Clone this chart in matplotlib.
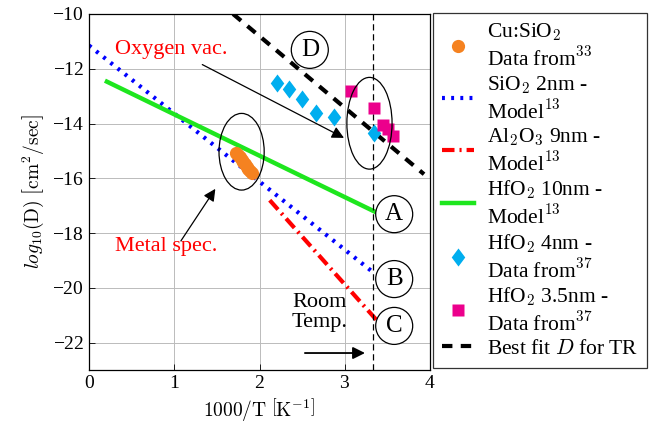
import numpy as np
import matplotlib.pyplot as plt
from matplotlib.patches import Ellipse
from matplotlib.path import Path

plt.rcParams['font.family'] = 'serif'
plt.rcParams['font.serif'] = ['Liberation Serif', 'DejaVu Serif']
plt.rcParams['mathtext.fontset'] = 'cm'
plt.rcParams['axes.formatter.use_mathtext'] = True

# Cu:SiO2 data
cu_x = [1.73, 1.75, 1.77, 1.79, 1.81, 1.83, 1.85, 1.87, 1.89, 1.91]
cu_y = [-15.08, -15.16, -15.24, -15.32, -15.40, -15.48, -15.57, -15.65, -15.73, -15.81]

# model lines (end points)
sio2_x = [0.0, 3.36]
sio2_y = [-11.15, -19.5]
al2o3_x = [2.12, 3.38]
al2o3_y = [-16.8, -21.2]
hfo2_x = [0.21, 3.36]
hfo2_y = [-12.47, -17.23]

# HfO2 4nm data
hf4_x = [2.21, 2.35, 2.50, 2.66, 2.87, 3.34]
hf4_y = [-12.53, -12.74, -13.10, -13.62, -13.77, -14.33]

# HfO2 3.5nm data
hf35_x = [3.07, 3.34, 3.45, 3.51, 3.57]
hf35_y = [-12.83, -13.44, -14.05, -14.21, -14.45]

# best fit D
fit_x = [1.69, 3.93]
fit_y = [-10.0, -15.85]

room_t = 3.33

fig = plt.figure(figsize=(6.52, 4.30), dpi=100)
ax = fig.add_axes([89 / 652, 60 / 430, 341 / 652, 356 / 430])

diamond = Path([(0, 1), (0.75, 0), (0, -1), (-0.75, 0), (0, 1)],
               [Path.MOVETO, Path.LINETO, Path.LINETO, Path.LINETO, Path.CLOSEPOLY])

ax.plot(cu_x, cu_y, 'o', color='#F58220', ms=9.5, mec='none', zorder=5,
        label='Cu:SiO$_2$\nData from$^{33}$')
ax.plot(sio2_x, sio2_y, color='#0000FF', lw=3, ls=(0, (0.7, 1.5)),
        label='SiO$_2$ 2nm -\nModel$^{13}$')
ax.plot(al2o3_x, al2o3_y, color='#FF0000', lw=3, ls=(0, (3, 1.2, 0.5, 1.2)),
        label='Al$_2$O$_3$ 9nm -\nModel$^{13}$')
ax.plot(hfo2_x, hfo2_y, color='#1EE61E', lw=3.2,
        label='HfO$_2$ 10nm -\nModel$^{13}$')
ax.plot(hf4_x, hf4_y, ls='none', marker=diamond, color='#00AEEF', ms=13, mec='none',
        zorder=6, label='HfO$_2$ 4nm -\nData from$^{37}$')
ax.plot(hf35_x, hf35_y, 's', color='#EC008C', ms=8.5, mec='none', zorder=6,
        label='HfO$_2$ 3.5nm -\nData from$^{37}$')
ax.plot(fit_x, fit_y, color='black', lw=3, ls=(0, (2.5, 2)), zorder=4,
        label='Best fit $D$ for TR')

ax.axvline(room_t, color='black', lw=0.9, ls=(0, (5, 3)), zorder=3)

ax.add_patch(Ellipse((1.79, -15.03), 0.53, 2.8, fill=False, lw=0.9, zorder=7))
ax.add_patch(Ellipse((3.29, -13.99), 0.53, 3.35, fill=False, lw=0.9, zorder=7))

circ = dict(boxstyle='circle,pad=0.3', fc='white', ec='black', lw=0.9)
for letter, lx, ly in [('D', 2.59, -11.31), ('A', 3.58, -17.31),
                       ('B', 3.58, -19.68), ('C', 3.58, -21.39)]:
    ax.text(lx, ly, letter, fontsize=18, ha='center', va='center', bbox=circ, zorder=8)

ax.text(0.31, -11.31, 'Oxygen vac.', color='red', fontsize=16, va='center')
ax.annotate('', xy=(3.02, -14.57), xytext=(1.30, -11.8),
            arrowprops=dict(arrowstyle='-|>', color='black', lw=0.9, mutation_scale=18))
ax.text(0.31, -18.49, 'Metal spec.', color='red', fontsize=16, va='center')
ax.annotate('', xy=(1.50, -16.30), xytext=(1.06, -18.37),
            arrowprops=dict(arrowstyle='-|>', color='black', lw=0.9, mutation_scale=18))
ax.text(2.38, -20.9, 'Room\nTemp.', fontsize=16, va='center', linespacing=1.1)
ax.annotate('', xy=(3.27, -22.38), xytext=(2.50, -22.38),
            arrowprops=dict(arrowstyle='-|>', color='black', lw=1.3, mutation_scale=18))

ax.set_xlim(0, 4)
ax.set_ylim(-23, -10)
ax.set_xticks([0, 1, 2, 3, 4])
ax.set_yticks([-10, -12, -14, -16, -18, -20, -22])
ax.tick_params(labelsize=14, direction='in', length=4, width=0.6)
ax.grid(True, color='#BBBBBB', lw=0.7)
ax.set_axisbelow(True)
ax.set_xlabel(r'$\mathrm{1000/T}\ \left[\mathrm{K}^{-1}\right]$', fontsize=14, labelpad=3)
ax.set_ylabel(r'$log_{10}(\mathrm{D})\ \left[\mathrm{cm}^2/\mathrm{sec}\right]$', fontsize=14, labelpad=4)
for s in ax.spines.values():
    s.set_linewidth(0.9)

leg = fig.legend(loc='upper left', bbox_to_anchor=(433 / 652, 1 - 13 / 430),
                 fontsize=15.5, frameon=True, fancybox=False, edgecolor='black',
                 handlelength=1.5, handletextpad=0.6, labelspacing=0.15,
                 borderpad=0.4, borderaxespad=0)
leg.get_frame().set_linewidth(0.9)

fig.savefig('out.png', dpi=100)
